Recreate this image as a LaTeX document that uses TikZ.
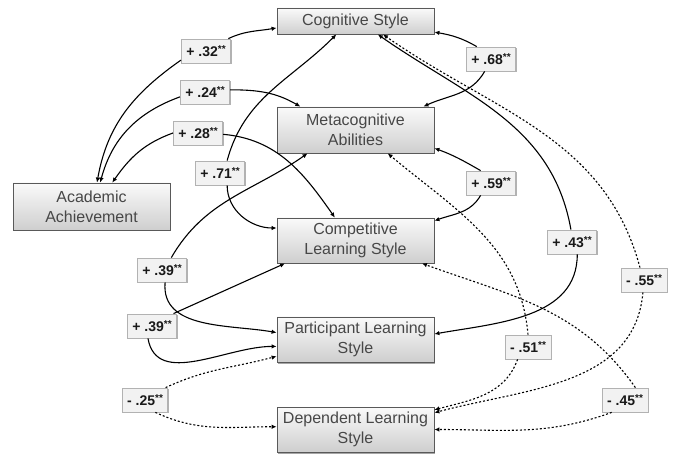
\documentclass[tikz,border=0pt]{standalone}
\usepackage{fontspec}
\setmainfont{Liberation Sans}
\usetikzlibrary{arrows.meta,shadows}
\definecolor{txt}{HTML}{474747}
\begin{document}
\begin{tikzpicture}[x=1pt,y=1pt,
  box/.style={draw=black!65, line width=0.8pt, top color=gray!4, bottom color=gray!38,
    minimum width=157pt, minimum height=45pt, inner sep=0pt, align=center, text=txt,
    font=\fontsize{16}{20}\selectfont,
    drop shadow={shadow xshift=1.2pt, shadow yshift=-1.5pt, opacity=0.35, fill=black}},
  lab/.style={draw=gray!60, line width=0.8pt, fill=gray!10, minimum height=24pt,
    inner xsep=5pt, inner ysep=0pt, font=\fontsize{14}{16}\selectfont\bfseries, text=black!90,
    drop shadow={shadow xshift=1pt, shadow yshift=-1pt, opacity=0.3, fill=black}},
  conn/.style={line width=1.1pt, -{Latex[length=5pt,width=4.5pt]}},
  dconn/.style={conn, dash pattern=on 2pt off 2pt},
]
\useasboundingbox (0,0) rectangle (678,-465);

\node[box, minimum height=26pt] (cog)  at (355.5,-21)   {Cognitive Style};
\node[box, minimum height=46pt] (meta) at (355.5,-130)  {Metacognitive\\Abilities};
\node[box] (comp) at (355.5,-240.5) {Competitive\\Learning Style};
\node[box] (part) at (355.5,-339.5) {Participant Learning\\Style};
\node[box] (dep)  at (355.5,-429.5) {Dependent Learning\\Style};
\node[box, minimum height=47pt] (acad) at (91.5,-206.5) {Academic\\Achievement};

\newcommand{\st}{\raisebox{0.45ex}{\fontsize{10}{10}\selectfont **}}
\node[lab] (l32)  at (206,-51)  {+ .32\st};
\node[lab] (l24)  at (205,-92)  {+ .24\st};
\node[lab] (l28)  at (198,-133) {+ .28\st};
\node[lab] (l71)  at (220,-173) {+ .71\st};
\node[lab] (l68)  at (491,-59)  {+ .68\st};
\node[lab] (l59)  at (491,-183) {+ .59\st};
\node[lab] (l43)  at (572,-242) {+ .43\st};
\node[lab] (l55)  at (644,-280) {- .55\st};
\node[lab] (l51)  at (528,-347) {- .51\st};
\node[lab] (l45)  at (625,-400) {- .45\st};
\node[lab] (l39a) at (162,-270) {+ .39\st};
\node[lab] (l39b) at (152,-326) {+ .39\st};
\node[lab] (l25)  at (145,-400) {- .25\st};

\draw[conn] (l32.29) to[out=25,in=190] (cog.185);
\draw[conn] (l32.200) to[out=215,in=80] (acad.77);
\draw[conn] (l24.5) to[out=0,in=150] (meta.157);
\draw[conn] (l24.191) to[out=200,in=75] (acad.70);
\draw[conn] (l28.-3) to[out=-5,in=125] (comp.132);
\draw[conn] (l28.180) to[out=200,in=55] (acad.49);
\draw[conn] (l71.60) to[out=75,in=225] (cog.215);
\draw[conn] (l71.-60) to[out=-90,in=180] (comp.171);
\draw[conn] (l68.139) to[out=150,in=-10] (cog.-8);
\draw[conn] (l68.243) to[out=240,in=25] (meta.19);
\draw[conn] (l59.130) to[out=150,in=-20] (meta.-13);
\draw[conn] (l59.230) to[out=240,in=20] (comp.14);
\draw[conn] (l43.-67) to[out=-90,in=10] (part.4);
\draw[conn] (l43.95) to[out=100,in=-35] (cog.-31);
\draw[conn] (l39a.53) to[out=60,in=215] (meta.206);
\draw[conn] (l39a.-76) to[out=-95,in=170] (part.175);
\draw[conn] (l39b.30) -- (comp.198);
\draw[conn] (l39b.252) to[out=-80,in=180] (part.185);
\draw[dconn] (l25.31) to[out=25,in=195] (part.192);
\draw[dconn] (l25.-50) to[out=-25,in=180] (dep.178);
\draw[dconn] (l51.90) to[out=95,in=-40] (meta.-36);
\draw[dconn] (l51.230) to[out=-110,in=15] (dep.14);
\draw[dconn] (l55.108) to[out=105,in=-35] (cog.-26);
\draw[dconn] (l55.-95) to[out=-95,in=15] (dep.12);
\draw[dconn] (l45.50) to[out=125,in=-20] (comp.-19);
\draw[dconn] (l45.223) to[out=200,in=0] (dep.0);
\end{tikzpicture}
\end{document}
